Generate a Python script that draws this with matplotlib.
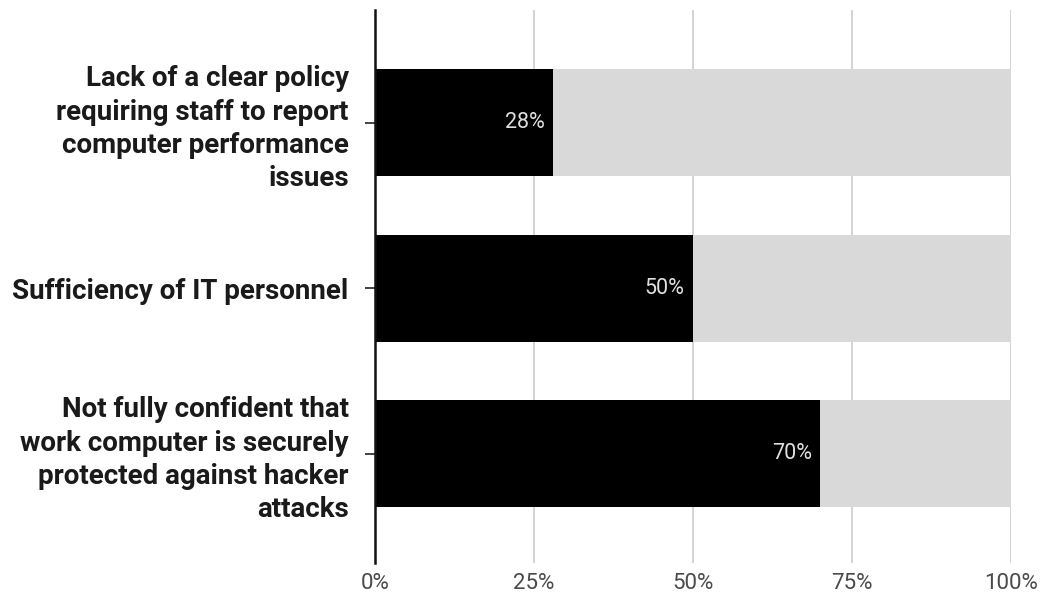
import numpy as np
import matplotlib.pyplot as plt

# data
categories = [
    "Lack of a clear policy\nrequiring staff to report\ncomputer performance\nissues",
    "Sufficiency of IT personnel",
    "Not fully confident that\nwork computer is securely\nprotected against hacker\nattacks",
]
values = [28, 50, 70]
totals = [100, 100, 100]
xticks = [0, 25, 50, 75, 100]
xtick_labels = ["0%", "25%", "50%", "75%", "100%"]

plt.rcParams['font.family'] = ['Roboto', 'DejaVu Sans']

fig = plt.figure(figsize=(10.47, 5.99), dpi=100)
ax = fig.add_axes([0.3582, 0.0601, 0.6074, 0.9232])

y = np.arange(len(categories))
rest = [t - v for t, v in zip(totals, values)]

ax.barh(y, values, height=0.645, color="black", zorder=3)
ax.barh(y, rest, left=values, height=0.645, color="#d9d9d9", zorder=3)

# value labels inside the black bars
for yi, v in zip(y, values):
    ax.text(v - 1.3, yi, f"{v}%", ha="right", va="center",
            color="#e0e0e0", fontsize=15.5, zorder=4)

ax.set_xlim(0, 100)
ax.set_ylim(2.66, -0.68)
ax.set_xticks(xticks)
ax.set_xticklabels(xtick_labels, fontsize=16, color="#4a4a4a")
ax.set_yticks(y)
ax.set_yticklabels(categories, fontsize=20, fontweight="bold",
                   color="#1a1a1a", linespacing=1.3)

ax.grid(axis="x", color="#cccccc", linewidth=1.2, zorder=0)
ax.tick_params(axis="x", length=0, pad=7)
ax.tick_params(axis="y", length=7, width=1.2, color="#222222", pad=12)

for s in ["top", "right", "bottom"]:
    ax.spines[s].set_visible(False)
ax.spines["left"].set_linewidth(1.8)
ax.spines["left"].set_color("#111111")
ax.spines["left"].set_zorder(5)

fig.savefig("out.png", dpi=100)
